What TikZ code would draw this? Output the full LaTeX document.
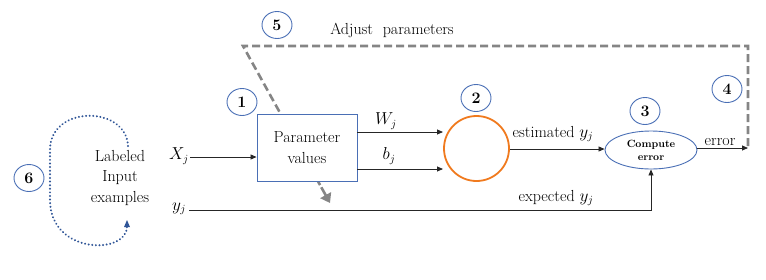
\documentclass[tikz,border=0pt]{standalone}
\usepackage{fontspec}
\setmainfont{Latin Modern Roman}
\usetikzlibrary{shapes.geometric,arrows.meta,calc}
\definecolor{nblue}{HTML}{4A6FB5}
\definecolor{dblue}{HTML}{2F5597}
\definecolor{orng}{HTML}{F07A1E}
\definecolor{dgray}{HTML}{858585}
\tikzset{
  num/.style={ellipse, draw=nblue, line width=0.9pt, minimum width=30pt, minimum height=27pt, inner sep=0pt, font=\fontsize{16}{16}\selectfont\bfseries},
  lbl/.style={font=\fontsize{16}{20.5}\selectfont, inner sep=0pt, align=center},
  conn/.style={line width=0.8pt, draw=black!85, -{Triangle[length=6pt,width=5pt]}},
  adjust/.style={line width=2.6pt, draw=dgray, dash pattern=on 8pt off 4pt},
  loopline/.style={line width=2.2pt, draw=dblue, dash pattern=on 0.01pt off 3.6pt, line cap=round}
}
\begin{document}
\begin{tikzpicture}[x=1pt,y=-1pt]
\useasboundingbox (0,0) rectangle (766,279);
% dashed feedback path
\coordinate (dtop) at (243,46);
\coordinate (dright) at (748,46);
\coordinate (dbot) at (748,146);
\coordinate (dend) at (330,203);
\coordinate (dmid) at ($(dtop)!0.9!(dend)$);
\draw[adjust] (dbot) -- (dright) -- (dtop) -- (dmid);
\draw[line width=2.6pt, draw=dgray, -{Triangle[length=9pt,width=12pt]}] (dmid) -- (dend);
% nodes
\node[draw=nblue, fill=white, line width=0.9pt, minimum width=100pt, minimum height=67pt, lbl] (box) at (307,147.5) {Parameter\\values};
\node[circle, draw=orng, line width=1.8pt, minimum size=65pt, inner sep=0pt] (neuron) at (476.5,148.5) {};
\node[ellipse, draw=nblue, line width=0.9pt, minimum width=92pt, minimum height=38pt, inner sep=0pt, align=center, font=\fontsize{10.5}{13}\selectfont\bfseries] (err) at (651,150) {Compute\\error};
\node[num] (n1) at (242,102) {1};
\node[num] (n2) at (476,98) {2};
\node[num] (n3) at (645,111) {3};
\node[num] (n4) at (727,89) {4};
\node[num] (n5) at (277,25) {5};
\node[num] (n6) at (29,178) {6};
\node[lbl] (adj) at (392,30) {Adjust\ \ parameters};
\node[lbl] (inp) at (120,178) {Labeled\\Input\\examples};
\node[lbl] (xj) at (179,156) {$X_j$};
\node[lbl] (yj) at (179,209) {$y_j$};
\node[lbl] (wl) at (386,121) {$W_j$};
\node[lbl] (bl) at (389,156) {$b_j$};
\node[lbl] (estl) at (553,134) {estimated~$y_j$};
\node[lbl] (expl) at (556,198) {expected~$y_j$};
\node[lbl] (errl) at (720,142) {error};
% connectors
\coordinate (xs) at (190,157);
\draw[conn] (xs) -- (box.west |- xs);
\coordinate (ws) at (box.east |- 0,132);
\draw[conn] (ws) -- (443,132);
\coordinate (bs) at (box.east |- 0,169);
\draw[conn] (bs) -- (443,169);
\draw[conn] (neuron.east |- 0,149) -- (err.west |- 0,149);
\draw[conn] (err.east |- 0,148) -- (dbot |- 0,148);
\draw[conn] (189,210) -| (err.south);
% loop
\draw[loopline] (128,146) .. controls (126,105) and (50,105) .. (50,150) -- (50,200) .. controls (50,255) and (128,255) .. (127,226);
\fill[dblue] (127,220) -- (124,227) -- (130,227) -- cycle;
\end{tikzpicture}
\end{document}
